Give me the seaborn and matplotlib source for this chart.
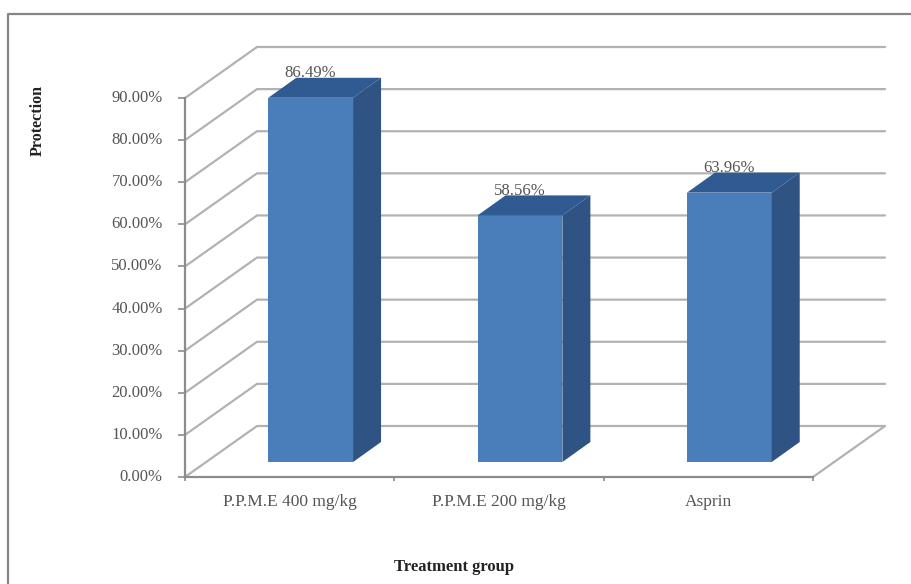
import matplotlib
matplotlib.use("Agg")
import matplotlib.pyplot as plt
import seaborn as sns
from matplotlib.lines import Line2D
from matplotlib.patches import Polygon
from matplotlib.transforms import ScaledTranslation

groups = ["P.P.M.E 400 mg/kg", "P.P.M.E 200 mg/kg", "Asprin"]
protection = [0.8649, 0.5856, 0.6396]
y_ticks = [0.0, 0.1, 0.2, 0.3, 0.4, 0.5, 0.6, 0.7, 0.8, 0.9]

W, H = 912, 584
LEFT, RIGHT, TOP, BOTTOM = 185, 813, 98, 477
GRID = "#b2b2b2"
AXIS = "#8c8c8c"
TEXT = "#555555"

sns.set_theme(style="white")
plt.rcParams["font.family"] = ["Liberation Serif", "DejaVu Serif"]

fig = plt.figure(figsize=(W / 100, H / 100), dpi=100, facecolor="white")
ax = fig.add_axes([LEFT / W, 1 - BOTTOM / H, (RIGHT - LEFT) / W, (BOTTOM - TOP) / H])

# pixels -> data units, the chart is a fake 3d so depth is just an offset
px_x = 3 / (RIGHT - LEFT)
px_y = 0.9 / (BOTTOM - TOP)
wall_dx, wall_dy = 72 * px_x, 51 * px_y
base_dx, base_dy = 21 * px_x, 15 * px_y
bar_dx, bar_dy = 28 * px_x, 20 * px_y

sns.barplot(x=groups, y=protection, color="#4a7ebb", saturation=1, width=0.405, ax=ax, zorder=3,
            edgecolor="none", linewidth=0)
ax.set_xlim(-0.5, 2.5)
ax.set_ylim(0, 0.9)

# back wall + side wall lines
for v in y_ticks:
    ax.plot([-0.5, -0.5 + wall_dx, 2.5 + wall_dx], [v, v + wall_dy, v + wall_dy],
            color=GRID, lw=1.6, clip_on=False, zorder=1, solid_joinstyle="miter")
ax.plot([2.5, 2.5 + wall_dx], [0, wall_dy], color=GRID, lw=1.6, clip_on=False, zorder=1)

# move bars back on the floor and add top and side faces
bars = ax.containers[0]
for bar in bars:
    bar.set_x(bar.get_x() + base_dx)
    bar.set_y(base_dy)
    bar.set_clip_on(False)
    x0 = bar.get_x()
    x1 = x0 + bar.get_width()
    y0 = base_dy
    y1 = y0 + bar.get_height()
    top = [(x0, y1), (x1, y1), (x1 + bar_dx, y1 + bar_dy), (x0 + bar_dx, y1 + bar_dy)]
    side = [(x1, y0), (x1 + bar_dx, y0 + bar_dy), (x1 + bar_dx, y1 + bar_dy), (x1, y1)]
    ax.add_patch(Polygon(top, closed=True, fc="#2f5b92", ec="none", clip_on=False, zorder=3))
    ax.add_patch(Polygon(side, closed=True, fc="#2f5484", ec="none", clip_on=False, zorder=3))

labels = [f"{v:.2%}" for v in protection]
for t in ax.bar_label(bars, labels=labels, padding=12, fontsize=12, color=TEXT):
    t.set_zorder(5)
    t.set_clip_on(False)

sns.despine(ax=ax, top=True, right=True)
for s in ["left", "bottom"]:
    ax.spines[s].set_color(AXIS)
    ax.spines[s].set_linewidth(1.6)

ax.set_yticks(y_ticks)
ax.set_yticklabels([f"{v:.2%}" for v in y_ticks])
ax.tick_params(axis="y", length=5, width=1.2, color=AXIS, left=True, labelsize=12, labelcolor=TEXT, pad=11)
# tick labels sit a bit above their ticks in the original
nudge = ScaledTranslation(0, 2 / 100, fig.dpi_scale_trans)
for lab in ax.get_yticklabels():
    lab.set_transform(lab.get_transform() + nudge)
ax.set_xticks([0, 1, 2])
ax.set_xticklabels(groups)
ax.set_xticks([-0.5, 0.5, 1.5, 2.5], minor=True)
ax.tick_params(axis="x", which="major", length=0, labelsize=12.5, labelcolor=TEXT, pad=12.5)
ax.tick_params(axis="x", which="minor", length=3, width=1.2, color=AXIS, bottom=True)

fig.text(38 / W, 1 - 121 / H, "Protection", rotation=90, ha="center", va="center",
         fontsize=11.5, fontweight="bold", color="#222222")
fig.text(454 / W, 1 - 567 / H, "Treatment group", ha="center", va="center",
         fontsize=12, fontweight="bold", color="#222222")

# chart frame, runs off the picture on right and bottom
fig.add_artist(Line2D([8 / W, 8 / W, 1], [0, 1 - 14 / H, 1 - 14 / H], color="#868686", lw=1.6,
                      transform=fig.transFigure))

fig.savefig("out.png", dpi=100)
